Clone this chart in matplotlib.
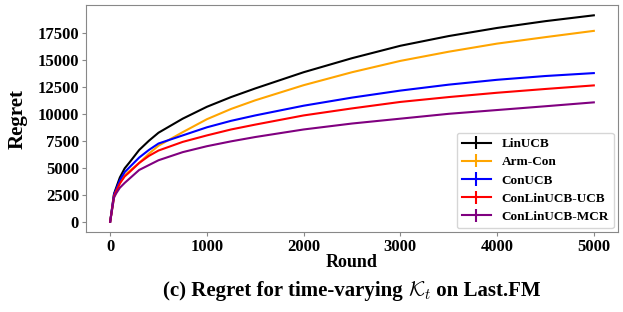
import matplotlib

matplotlib.use("Agg")
import matplotlib.pyplot as plt
import numpy as np

plt.rcParams["font.family"] = ["Liberation Serif", "DejaVu Serif"]
plt.rcParams["mathtext.fontset"] = "cm"

rounds = [0, 40, 60, 100, 150, 200, 300, 400, 500, 750, 1000, 1250, 1500,
          2000, 2500, 3000, 3500, 4000, 4500, 5000]

linucb = [0, 2600, 3100, 4100, 4950, 5500, 6650, 7500, 8250, 9550, 10650, 11550,
          12350, 13850, 15150, 16300, 17200, 17950, 18580, 19120]
armcon = [0, 2250, 2650, 3600, 4300, 4700, 5450, 6300, 7050, 8300, 9500, 10450,
          11250, 12650, 13850, 14900, 15750, 16500, 17100, 17680]
conucb = [0, 2550, 2950, 3850, 4600, 5050, 5950, 6650, 7250, 8000, 8750, 9350,
          9850, 10750, 11500, 12150, 12700, 13150, 13500, 13770]
conlin_ucb = [0, 2400, 2800, 3550, 4200, 4600, 5450, 6100, 6600, 7400, 8000, 8550,
              9000, 9850, 10500, 11100, 11550, 11950, 12300, 12630]
conlin_mcr = [0, 2250, 2600, 3150, 3600, 4000, 4800, 5250, 5700, 6450, 7000, 7450,
              7850, 8550, 9100, 9550, 10000, 10350, 10700, 11060]

series = [
    ("LinUCB", linucb, "black"),
    ("Arm-Con", armcon, "orange"),
    ("ConUCB", conucb, "blue"),
    ("ConLinUCB-UCB", conlin_ucb, "red"),
    ("ConLinUCB-MCR", conlin_mcr, "purple"),
]

fig = plt.figure(figsize=(6.23, 3.12), dpi=100)
ax = fig.add_axes([0.138, 0.256, 0.854, 0.728])

for name, vals, color in series:
    ax.errorbar(rounds, vals, yerr=np.zeros(len(vals)), color=color,
                linewidth=1.5, label=name)

ax.set_xticks([0, 1000, 2000, 3000, 4000, 5000])
ax.set_yticks([0, 2500, 5000, 7500, 10000, 12500, 15000, 17500])
ax.tick_params(labelsize=12, color="#888888", length=3, pad=2)
for lab in ax.get_xticklabels() + ax.get_yticklabels():
    lab.set_fontweight("bold")
for sp in ax.spines.values():
    sp.set_color("#888888")

ax.set_xlabel("Round", fontsize=13, fontweight="bold", labelpad=-1)
ax.set_ylabel("Regret", fontsize=15, fontweight="bold", labelpad=7)

ax.legend(loc="lower right", prop={"size": 9.5, "weight": "bold"},
          handlelength=2.2, labelspacing=0.45, borderaxespad=0.3)

# caption: bold text with a calligraphic K in the middle
renderer = fig.canvas.get_renderer()
parts = [
    ("(c) Regret for time-varying ", "bold"),
    (r"$\mathcal{K}_t$", "normal"),
    (" on Last.FM", "bold"),
]
texts = []
for s, w in parts:
    t = fig.text(0, 0, s, ha="left", va="baseline", fontsize=15, fontweight=w)
    texts.append(t)
widths = [t.get_window_extent(renderer).width for t in texts]
x0 = 0.565 * fig.bbox.width - sum(widths) / 2
y0 = 0.05 * fig.bbox.height
for t, w in zip(texts, widths):
    t.set_transform(fig.dpi_scale_trans)
    t.set_position((x0 / fig.dpi, y0 / fig.dpi))
    x0 += w

fig.savefig("out.png", dpi=100)
